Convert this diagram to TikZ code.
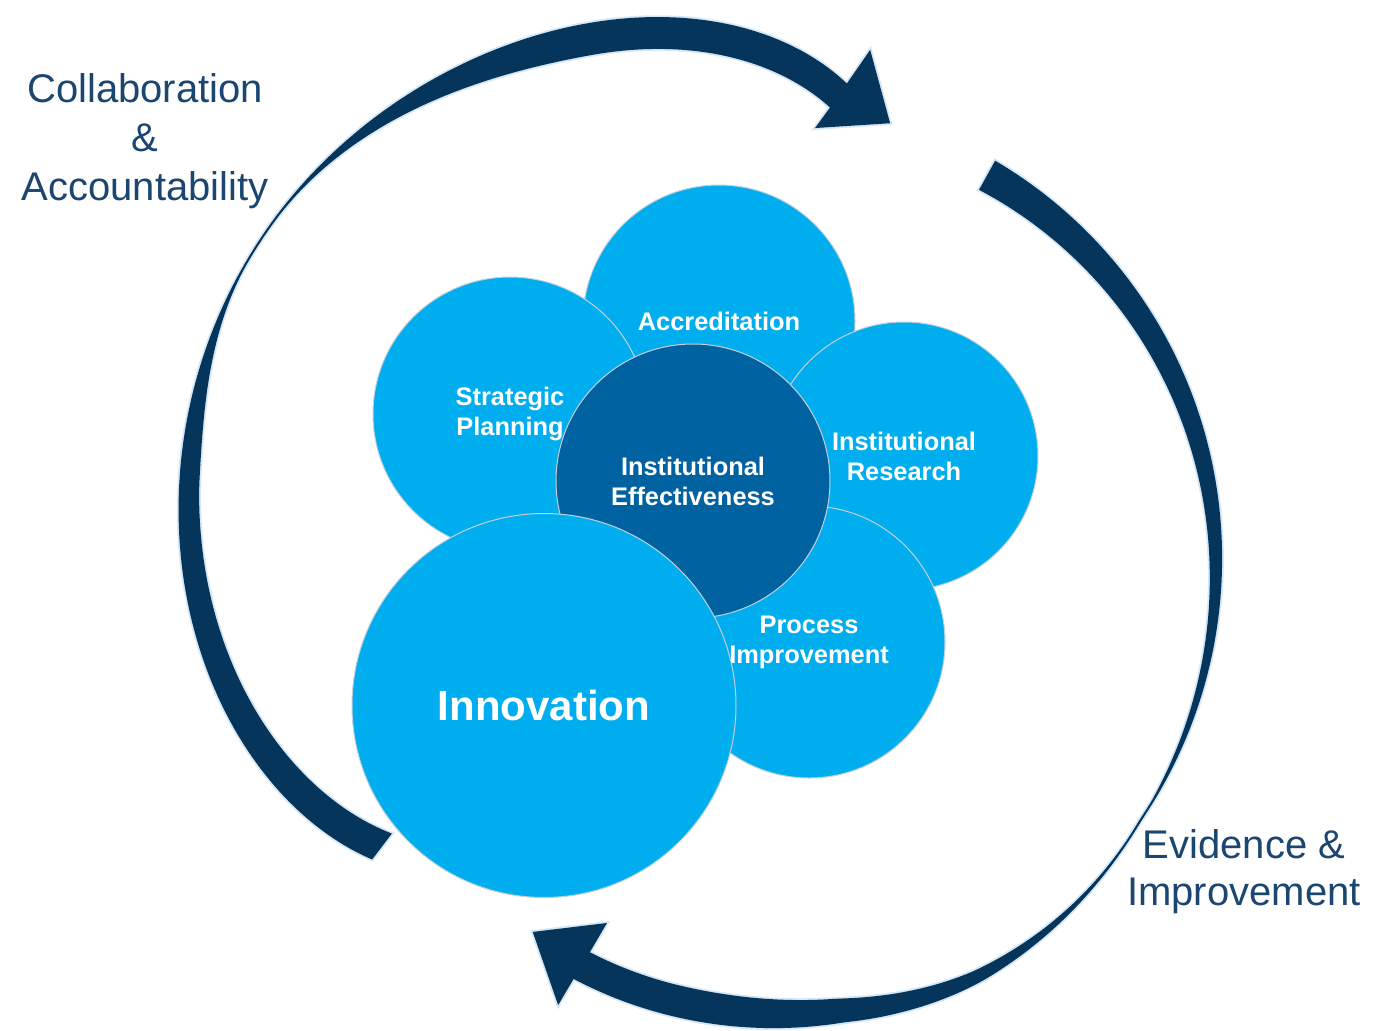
\documentclass[tikz,border=0pt]{standalone}
\usepackage{fontspec}
\setmainfont{Liberation Sans}
\definecolor{cyanc}{HTML}{00AEEF}
\definecolor{darkc}{HTML}{0062A1}
\definecolor{navy}{HTML}{06355C}
\definecolor{labelc}{HTML}{1A4670}
\definecolor{rimc}{HTML}{C5D0DA}
\definecolor{haloc}{HTML}{D5E6F4}
\begin{document}
\begin{tikzpicture}[x=0.5pt,y=-0.5pt,
  declare function={
    cl(\x)=min(1,max(0,\x));
    ss(\x)=3*cl(\x)*cl(\x)-2*cl(\x)*cl(\x)*cl(\x);
    ro1(\x)=525-53*exp(-(\x-134)/17)-6*exp(-(\x-245)*(\x-245)/900)-0.05*max(\x-215,0)-60*exp((\x-288.6)/16);
    th1(\x)=2+18*ss((210-\x)/26)+0.28*max(0,184-\x)+30*ss((\x-215)/42);
    ri1(\x)=ro1(\x)-th1(\x);
    uc(\x)=cl((\x-58)/47.4);
    ro2(\x)=465+69*sin(90*cl((\x+50.6)/85))+7*sin(180*cl((\x-34)/40))-58*uc(\x)*sqrt(uc(\x));
    th2(\x)=2+32*cl((32-\x)/82.6)+30*ss((\x-36)/56);
    ri2(\x)=ro2(\x)-th2(\x);
  },
  bubble/.style={circle, fill=cyanc, draw=rimc, line width=0.5pt, inner sep=0pt,
    text=white, align=center, font=\bfseries\fontsize{12.7}{15}\selectfont},
  band/.style={fill=navy, preaction={draw=haloc, line width=1.8pt}},
  outerlbl/.style={text=labelc, align=center, inner sep=0pt}]
\useasboundingbox (0,0) rectangle (1373,1030);
\fill[white] (0,0) rectangle (1373,1030);

% left + top arrow
\fill[band, shift={(700,520)}]
  plot[domain=134:288.6, samples=120, smooth] (\x:{ro1(\x)})
  -- (289.9:500) -- (295.6:440) -- (286.35:408.5)
  -- plot[domain=-287.5:-134.5, samples=120, smooth] ({-\x}:{ri1(-\x)})
  -- cycle;

% right + bottom arrow
\fill[band, shift={(700,520)}]
  plot[domain=-50.6:105.4, samples=120, smooth] (\x:{ro2(\x)})
  -- (106.3:505.4) -- (112.1:444.6) -- (103:413.6)
  -- plot[domain=-104.3:49.8, samples=120, smooth] ({-\x}:{ri2(-\x)})
  -- cycle;

% circles
\node[bubble, minimum size=136pt] (acc) at (719,321) {Accreditation};
\node[bubble, minimum size=137pt] (sp) at (510,414) {Strategic\\Planning};
\node[bubble, minimum size=134pt] (ir) at (904,456) {Institutional\\Research};
\node[bubble, minimum size=136pt] (pi) at (809,642) {Process\\Improvement};
\node[bubble, fill=darkc, minimum size=137pt] (ie) at (693,481) {Institutional\\Effectiveness};
\node[bubble, minimum size=192pt, font=\bfseries\fontsize{21}{25}\selectfont] (inn) at (544,705.5) {Innovation};

% outer labels
\node[outerlbl, font=\fontsize{20}{24.5}\selectfont] (ca) at (145,141) {Collaboration\\\&\\Accountability};
\node[outerlbl, font=\fontsize{20}{23.5}\selectfont] (ei) at (1244,872) {Evidence \&\\Improvement};
\end{tikzpicture}
\end{document}
